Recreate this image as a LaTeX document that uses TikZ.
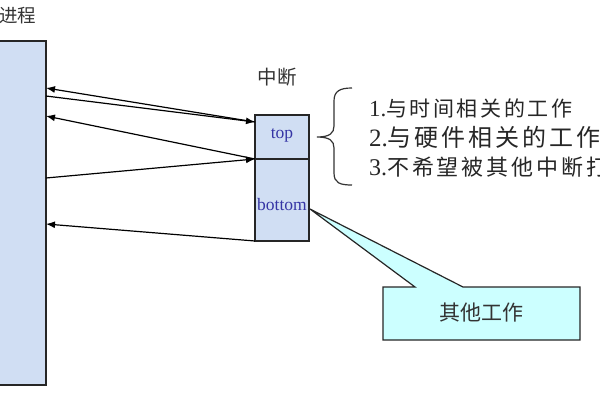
\documentclass[tikz,border=0pt]{standalone}
\usepackage{fontspec}
\setmainfont{Liberation Serif}
\newfontfamily\cjk{Noto Sans CJK SC}
\newfontfamily\cjkA[LetterSpace=12]{Noto Sans CJK SC}
\newfontfamily\cjkB[LetterSpace=12]{Noto Sans CJK SC}
\newfontfamily\cjkC[LetterSpace=13]{Noto Sans CJK SC}
\usetikzlibrary{arrows.meta}
\definecolor{boxblue}{HTML}{D0DEF3}
\definecolor{labblue}{HTML}{3535A5}
\definecolor{callcyan}{HTML}{CCFFFF}
\begin{document}
\begin{tikzpicture}[x=1pt,y=-1pt,
  blockbox/.style={draw=black!85, line width=1.4pt, fill=boxblue, inner sep=0pt, outer sep=0pt},
  arr/.style={-{Latex[length=9pt,width=7pt]}, line width=1.2pt, black},
  lab/.style={text=labblue, font=\fontsize{17.5}{17.5}\selectfont, inner sep=0pt},
  cjklab/.style={text=black!80, inner sep=0pt},
  bracestyle/.style={draw=black!80, line width=1.2pt},
  callstyle/.style={draw=black!85, line width=1.2pt, fill=callcyan, line join=miter},
  listline/.style={anchor=west, text=black!85, inner sep=0pt}]
\useasboundingbox (0,0) rectangle (600,400);
% process bar
\node[blockbox, minimum width=50pt, minimum height=344pt] (proc) at (21,213) {};
\node[cjklab, anchor=west, font=\cjk\fontsize{18.5}{18.5}\selectfont] (proclab) at (-1,16) {进程};
% interrupt boxes
\node[blockbox, minimum width=54pt, minimum height=44pt] (top) at (282,137) {};
\node[blockbox, minimum width=54pt, minimum height=82pt] (bot) at (282,200) {};
\node[lab] (toplab) at (282,135) {top};
\node[lab] (botlab) at (282,205) {bottom};
\node[cjklab, font=\cjk\fontsize{19.5}{19.5}\selectfont] (intlab) at (277,77) {中断};
% connector points
\coordinate (t1) at ([yshift=-7pt]top.north west);
\coordinate (t2) at (top.south west);
\coordinate (b1) at (bot.south west);
\coordinate (p1) at (46,88);
\coordinate (p2) at (46,96);
\coordinate (p3) at (46,116);
\coordinate (p4) at (46,178);
\coordinate (p5) at (46,224);
\draw[arr] (t1) -- (p1);
\draw[arr] (p2) -- (t1);
\draw[arr] (t2) -- (p3);
\draw[arr] (p4) -- (t2);
\draw[arr] (b1) -- (p5);
% brace
\draw[bracestyle] (352,88) .. controls (340,88) and (334,91) .. (334,101) -- (334,126) .. controls (334,133) and (330,137) .. (317,137) .. controls (330,137) and (334,141) .. (334,148) -- (334,173) .. controls (334,183) and (340,185) .. (352,185);
% list
\node[listline] (l1) at (369,108) {\fontsize{23}{23}\selectfont 1.{\cjkA\fontsize{21}{21}\selectfont 与时间相关的工作}};
\node[listline] (l2) at (369,137) {\fontsize{25}{25}\selectfont 2.{\cjkB\fontsize{24}{24}\selectfont 与硬件相关的工作}};
\node[listline] (l3) at (369,167) {\fontsize{24}{24}\selectfont 3.{\cjkC\fontsize{22}{22}\selectfont 不希望被其他中断打}};
% callout
\coordinate (apex) at (310,209);
\draw[callstyle] (383,287) -- (415,287) -- (apex) -- (463,287) -- (580,287) -- (580,340) -- (383,340) -- cycle;
\node[cjklab, font=\cjk\fontsize{21}{21}\selectfont] (call) at (481,313) {其他工作};
\end{tikzpicture}
\end{document}
